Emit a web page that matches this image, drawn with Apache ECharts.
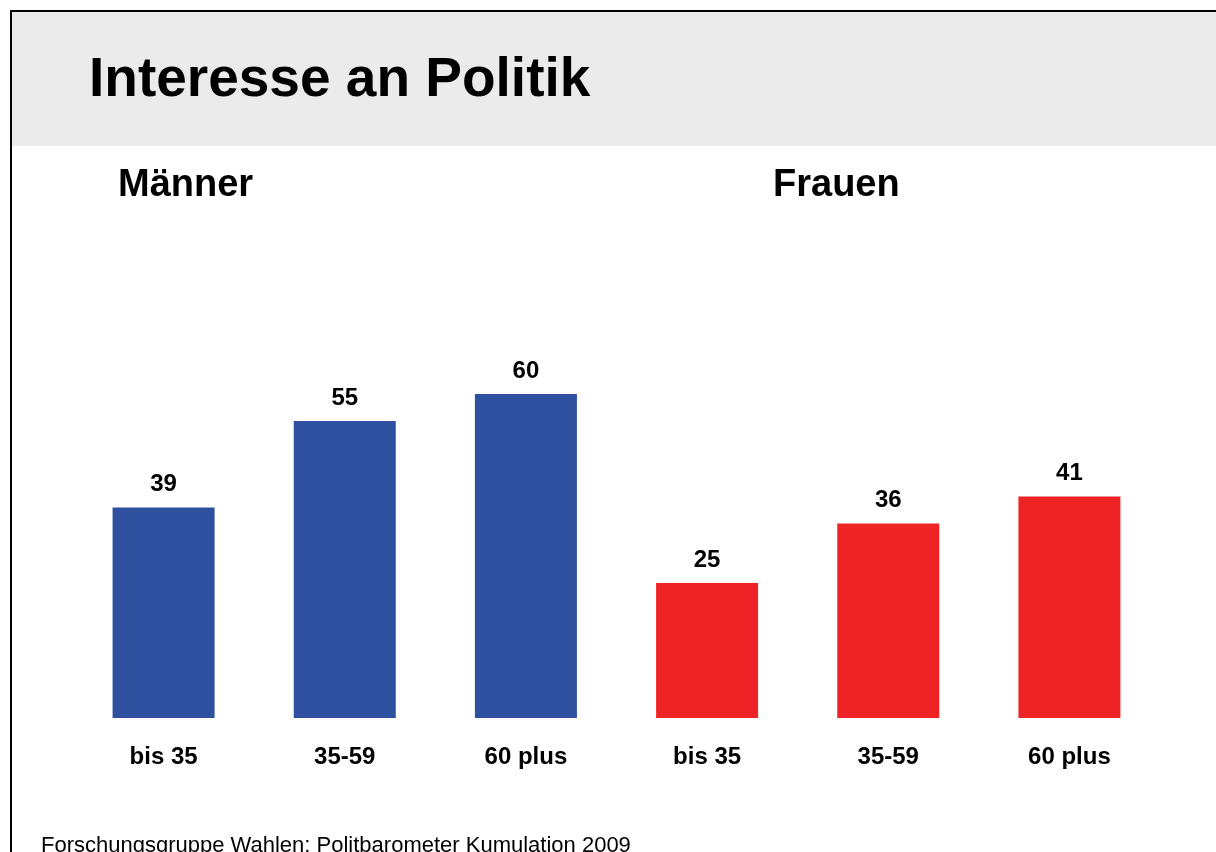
<!DOCTYPE html>
<html>
<head>
<meta charset="utf-8">
<script src="https://cdn.jsdelivr.net/npm/echarts@6/dist/echarts.min.js"></script>
<style>
html,body{margin:0;padding:0;background:#fff;}
#c{width:1216px;height:852px;}
</style>
</head>
<body>
<div id="c"></div>
<script>
var categories = ['bis 35', '35-59', '60 plus', 'bis 35 ', '35-59 ', '60 plus '];
var maennerValues = [39, 55, 60];
var frauenValues = [25, 36, 41];
var titleText = 'Interesse an Politik';
var groupLabels = ['Männer', 'Frauen'];
var sourceText = 'Forschungsgruppe Wahlen: Politbarometer Kumulation 2009';

var FONT = '"Liberation Sans", Arial, sans-serif';
var menData = maennerValues.concat([null, null, null]);
var womenData = [null, null, null].concat(frauenValues);

var chart = echarts.init(document.getElementById('c'));
var labelStyle = {
  show: true, position: 'top', distance: 11,
  fontFamily: FONT, fontWeight: 'bold', fontSize: 24, color: '#000'
};
chart.setOption({
  animation: false,
  backgroundColor: '#fff',
  grid: { left: 73, right: 56, top: 178, bottom: 134, containLabel: false },
  xAxis: {
    type: 'category',
    data: categories,
    axisLine: { show: false },
    axisTick: { show: false },
    axisLabel: {
      margin: 27, fontFamily: FONT, fontWeight: 'bold', fontSize: 24, color: '#000',
      formatter: function (v) { return v.trim(); }
    }
  },
  yAxis: {
    type: 'value', min: 0, max: 100,
    show: false, splitLine: { show: false }
  },
  series: [
    { type: 'bar', stack: 's', barWidth: 102, data: menData,
      itemStyle: { color: '#2F4F9F' }, label: labelStyle },
    { type: 'bar', stack: 's', barWidth: 102, data: womenData,
      itemStyle: { color: '#EE2326' }, label: labelStyle }
  ],
  graphic: [
    { type: 'rect', z: -10, shape: { x: 11, y: 11, width: 1205, height: 135 },
      style: { fill: '#EBEBEB' }, silent: true },
    { type: 'line', shape: { x1: 10, y1: 11, x2: 1216, y2: 11 },
      style: { stroke: '#000', lineWidth: 2 }, silent: true },
    { type: 'line', shape: { x1: 11, y1: 10, x2: 11, y2: 852 },
      style: { stroke: '#000', lineWidth: 2 }, silent: true },
    { type: 'text', x: 89, y: 81,
      style: { text: titleText, font: 'bold 55px ' + FONT, fill: '#000', verticalAlign: 'middle' } },
    { type: 'text', x: 118, y: 186,
      style: { text: groupLabels[0], font: 'bold 38px ' + FONT, fill: '#000', verticalAlign: 'middle' } },
    { type: 'text', x: 773, y: 186,
      style: { text: groupLabels[1], font: 'bold 38px ' + FONT, fill: '#000', verticalAlign: 'middle' } },
    { type: 'text', x: 41, y: 846,
      style: { text: sourceText, font: '22px ' + FONT, fill: '#000', verticalAlign: 'middle' } }
  ]
});
</script>
</body>
</html>
